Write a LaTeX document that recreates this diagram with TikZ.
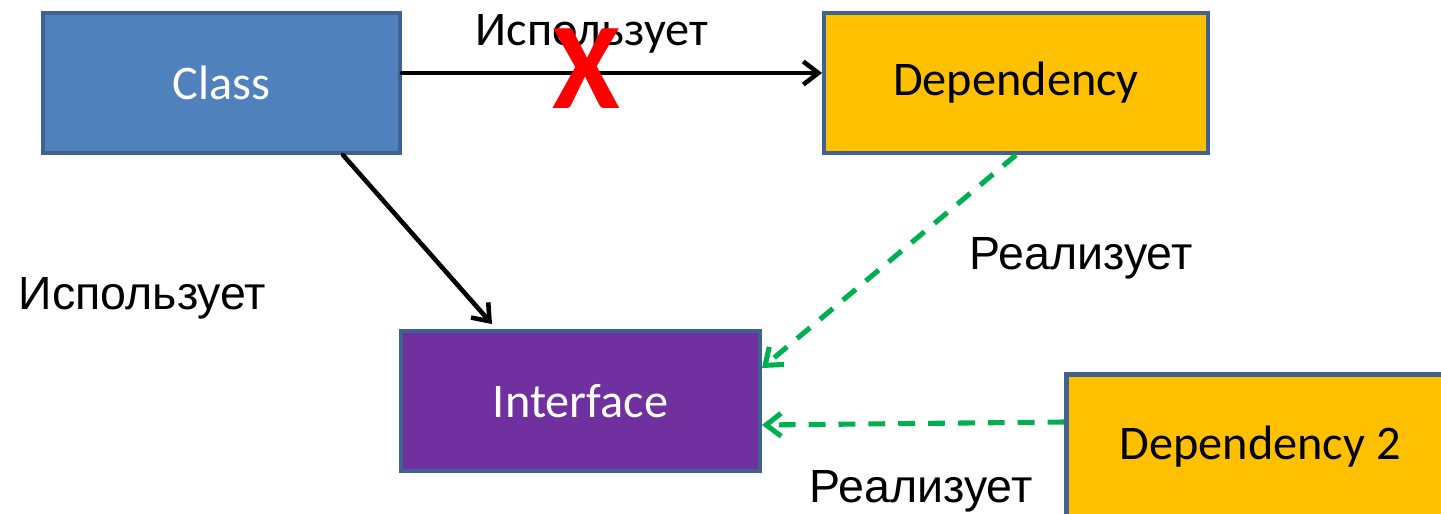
\documentclass[tikz,border=0pt]{standalone}
\usepackage{fontspec}
\setmainfont{Carlito}
\newfontfamily\arialfont{Liberation Sans}
\usetikzlibrary{arrows.meta}
\definecolor{classblue}{HTML}{4F81BD}
\definecolor{depyellow}{HTML}{FFC000}
\definecolor{intfpurple}{HTML}{7030A0}
\definecolor{boxline}{HTML}{3F6290}
\definecolor{realgreen}{HTML}{00B050}

\begin{document}
\begin{tikzpicture}[x=0.02cm, y=-0.02cm, >={Straight Barb[length=3mm,width=4.6mm]}]
        \tikzstyle{every node} = [rectangle]
        \tikzstyle{box} = [draw=boxline, line width=2.4pt, minimum height=2.795cm, inner sep=0pt, font=\fontsize{27.5}{31}\selectfont]
        \tikzstyle{textlabel} = [font=\arialfont\fontsize{26.5}{30}\selectfont, anchor=base]
        \tikzstyle{uses} = [->, line width=2.6pt, line cap=round]
        \tikzstyle{realizes} = [->, draw=realgreen, line width=2.9pt, dash pattern=on 9.6pt off 7.4pt]
        \useasboundingbox (0,0) rectangle (1441,514);
        \clip (0,0) rectangle (1441,514);
        \node[box, fill=classblue, text=white, minimum width=7.135cm] (class) at (221.5,83) {Class};
        \node[box, fill=depyellow, minimum width=7.675cm] (dep) at (1016,83) {Dependency};
        \node[box, fill=intfpurple, text=white, minimum width=7.175cm] (intf) at (580.5,401) {Interface};
        \node[box, fill=depyellow, minimum width=7.74cm, minimum height=2.90cm] (dep2) at (1260,447) {Dependency 2};
        \node[anchor=base, font=\fontsize{27.5}{32}\selectfont] (usetop) at (592,45) {Использует};
        \node[textlabel] (useleft) at (142.5,309) {Использует};
        \node[textlabel] (realtop) at (1081,269) {Реализует};
        \node[textlabel] (realbottom) at (921,502) {Реализует};
        \draw[uses] ([yshift=0.2cm]class.east) -- ([yshift=0.2cm]dep.west);
        \draw[uses] ([xshift=2.43cm]class.south) -- ([xshift=-1.77cm, yshift=0.1cm]intf.north);
        \draw[realizes] (dep.south) -- ([yshift=0.66cm]intf.east);
        \draw[realizes] ([yshift=0.5cm]dep2.west) -- ([yshift=-0.48cm]intf.east);
        \node[anchor=base, text=red, font=\bfseries\fontsize{70}{70}\selectfont] (cross) at (586,108) {X};
    \end{tikzpicture}
\end{document}
